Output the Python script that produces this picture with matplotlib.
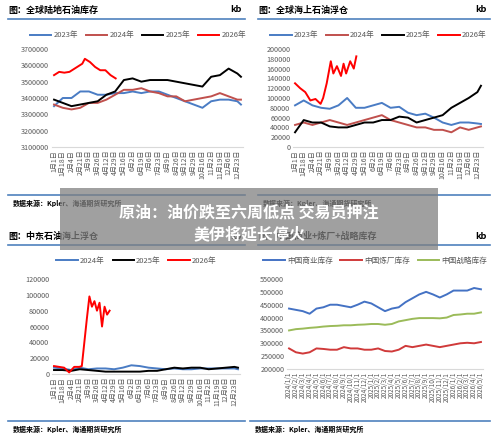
import matplotlib
matplotlib.use("Agg")
import matplotlib.pyplot as plt
from matplotlib.patches import Rectangle
from matplotlib.lines import Line2D

plt.rcParams['font.family'] = ['Noto Sans CJK SC', 'DejaVu Sans']

day_labels = ["1月1日","1月18日","2月4日","2月21日","3月9日","3月26日","4月12日","4月29日","5月16日",
              "6月2日","6月19日","7月6日","7月23日","8月9日","8月26日","9月12日","9月29日","10月16日",
              "11月2日","11月19日","12月6日","12月23日"]
tick_days = [i * 17 for i in range(22)]
series_days = tick_days + [364]

# Panel 1: global onshore crude inventory
tl_2023 = [3350000,3400000,3400000,3440000,3440000,3420000,3420000,3430000,3430000,3440000,3430000,3440000,3440000,3420000,3400000,3380000,3360000,3340000,3380000,3390000,3390000,3380000,3360000]
tl_2024 = [3360000,3340000,3330000,3340000,3370000,3370000,3390000,3420000,3450000,3450000,3460000,3440000,3430000,3410000,3410000,3380000,3390000,3400000,3410000,3430000,3410000,3390000,3390000]
tl_2025 = [3390000,3370000,3350000,3360000,3370000,3380000,3420000,3440000,3510000,3520000,3500000,3510000,3510000,3510000,3500000,3490000,3480000,3470000,3530000,3540000,3580000,3550000,3530000]
tl_2026_days = [0,10,20,30,40,50,55,60,70,80,90,100,110,120]
tl_2026 = [3540000,3560000,3555000,3560000,3580000,3600000,3610000,3640000,3620000,3590000,3570000,3570000,3540000,3520000]

# Panel 2: global floating storage
tr_2023 = [85000,95000,85000,80000,78000,85000,100000,80000,80000,85000,90000,80000,82000,70000,65000,68000,60000,50000,45000,50000,50000,48000,47000]
tr_2024 = [45000,50000,45000,50000,55000,50000,45000,50000,55000,60000,65000,55000,50000,45000,40000,40000,35000,35000,30000,40000,35000,40000,42000]
tr_2025 = [30000,55000,50000,50000,42000,40000,40000,45000,50000,50000,55000,55000,62000,60000,50000,55000,60000,65000,80000,90000,100000,112000,125000]
tr_2026_days = [0,10,20,30,40,50,55,62,70,75,82,90,95,100,108,115,120]
tr_2026 = [130000,120000,112000,95000,98000,88000,100000,130000,175000,150000,165000,145000,170000,150000,175000,160000,185000]

# Panel 3: Middle East floating storage
bl_2024 = [8000,7000,5000,8000,6000,7000,7000,6000,8000,11000,10000,8000,7000,6000,7000,6000,6000,7000,7000,7000,7000,7000,6000]
bl_2025 = [5000,5000,4000,6000,5000,4000,3000,3000,3000,3000,3000,4000,4000,6000,8000,7000,8000,8000,6000,7000,8000,9000,8000]
bl_2026_days = [0,10,20,30,40,50,55,60,65,70,75,80,85,90,95,100,105,110]
bl_2026 = [10000,9000,8000,2000,9000,9000,10000,40000,70000,98000,85000,92000,80000,90000,60000,85000,75000,80000]

# Panel 4: China inventories (monthly 2024/1 - 2026/5)
month_labels = [f"{y}/{m}/1" for y in (2024, 2025) for m in range(1, 13)] + [f"2026/{m}/1" for m in range(1, 6)]
br_comm = [435000,430000,425000,415000,435000,440000,450000,450000,445000,440000,450000,462000,455000,440000,425000,435000,440000,460000,475000,490000,500000,490000,478000,490000,505000,505000,505000,515000,510000]
br_ref = [280000,265000,260000,265000,280000,278000,275000,275000,285000,280000,280000,275000,275000,280000,270000,268000,275000,290000,285000,290000,295000,290000,285000,290000,295000,300000,302000,300000,305000]
br_spr = [350000,355000,357000,360000,362000,365000,367000,368000,370000,370000,372000,373000,375000,375000,372000,375000,385000,390000,395000,398000,398000,398000,397000,400000,410000,412000,415000,415000,420000]

W, H = 500, 440
fig = plt.figure(figsize=(5, 4.4), dpi=100)
BLUE_LINE = "#4f81bd"
TXT = "#595959"

def ax_at(l, t, r, b):
    return fig.add_axes([l / W, 1 - b / H, (r - l) / W, (b - t) / H])

def px(x, y, s, **kw):
    fig.text(x / W, 1 - y / H, s, **kw)

def hline(x0, x1, y, color=BLUE_LINE, lw=1.2):
    fig.add_artist(Line2D([x0 / W, x1 / W], [1 - y / H, 1 - y / H], color=color, lw=lw))

def style(ax, ylim, yticks):
    ax.set_ylim(*ylim)
    ax.set_yticks(yticks)
    ax.set_yticklabels([str(v) for v in yticks], fontsize=5.2, color=TXT)
    for s in ax.spines.values():
        s.set_visible(False)
    ax.spines['bottom'].set_visible(True)
    ax.spines['bottom'].set_color("#d9d9d9")
    ax.tick_params(length=0, pad=2)

def legend(ax, handles, labels, y, fs=5.5):
    ax.legend(handles, labels, loc='lower center', bbox_to_anchor=(0.45, y), ncol=len(labels),
              frameon=False, fontsize=fs, handlelength=2.8, columnspacing=1.0, labelcolor=TXT, handletextpad=0.3)

def header(x0, x1, y, title):
    px(x0, y, title, fontsize=6.5, fontweight='bold', va='center')
    px(x1 - 3, y, "kb", fontsize=6.5, fontweight='bold', va='center', ha='right')
    hline(x0, x1, y + 9)

def footer(x0, x1, y):
    hline(x0, x1, y)
    px(x0 + 5, y + 8, "数据来源：Kpler、海通期货研究所", fontsize=5, fontweight='bold', va='center')

C23, C24, C25, C26 = "#4a7cc4", "#c0504d", "#000000", "#ff0000"

# Panel 1
header(8, 245, 10, "图：全球陆地石油库存")
ax1 = ax_at(52, 49, 243, 147)
h = [ax1.plot(series_days, tl_2023, color=C23, lw=1.4)[0],
     ax1.plot(series_days, tl_2024, color=C24, lw=1.4)[0],
     ax1.plot(series_days, tl_2025, color=C25, lw=1.4)[0],
     ax1.plot(tl_2026_days, tl_2026, color=C26, lw=1.4)[0]]
style(ax1, (3100000, 3700000), list(range(3100000, 3700001, 100000)))
ax1.set_xlim(-4, 368)
ax1.set_xticks(tick_days)
ax1.set_xticklabels(day_labels, rotation=90, fontsize=5, color=TXT)
legend(ax1, h, ["2023年", "2024年", "2025年", "2026年"], 1.03)
footer(8, 245, 195)

# Panel 2
header(258, 490, 10, "图：全球海上石油浮仓")
ax2 = ax_at(293, 49, 483, 147)
h = [ax2.plot(series_days, tr_2023, color=C23, lw=1.4)[0],
     ax2.plot(series_days, tr_2024, color=C24, lw=1.4)[0],
     ax2.plot(series_days, tr_2025, color=C25, lw=1.4)[0],
     ax2.plot(tr_2026_days, tr_2026, color=C26, lw=1.4)[0]]
style(ax2, (0, 200000), list(range(0, 200001, 20000)))
ax2.set_xlim(-4, 368)
ax2.set_xticks(tick_days)
ax2.set_xticklabels(day_labels, rotation=90, fontsize=5, color=TXT)
legend(ax2, h, ["2023年", "2024年", "2025年", "2026年"], 1.03)
footer(258, 490, 195)

# Panel 3
header(8, 245, 236, "图：中东石油海上浮仓")
ax3 = ax_at(52, 279, 240, 374)
h = [ax3.plot(series_days, bl_2024, color=C23, lw=1.4)[0],
     ax3.plot(series_days, bl_2025, color=C25, lw=1.4)[0],
     ax3.plot(bl_2026_days, bl_2026, color=C26, lw=1.4)[0]]
style(ax3, (0, 120000), list(range(0, 120001, 20000)))
ax3.set_xlim(-4, 368)
ax3.set_xticks(tick_days)
ax3.set_xticklabels(day_labels, rotation=90, fontsize=5, color=TXT)
legend(ax3, h, ["2024年", "2025年", "2026年"], 1.08)
footer(8, 245, 421)

# Panel 4
header(258, 490, 236, "图：中国商业+炼厂+战略库存")
ax4 = ax_at(287, 279, 483, 369)
mx = list(range(len(month_labels)))
h = [ax4.plot(mx, br_comm, color="#4472c4", lw=1.4)[0],
     ax4.plot(mx, br_ref, color="#d03a3a", lw=1.4)[0],
     ax4.plot(mx, br_spr, color="#9bbb59", lw=1.4)[0]]
style(ax4, (200000, 550000), list(range(200000, 550001, 50000)))
ax4.set_xlim(-0.3, len(mx) - 0.7)
ax4.set_xticks(mx)
ax4.set_xticklabels(month_labels, rotation=90, fontsize=4.6, color=TXT)
legend(ax4, h, ["中国商业库存", "中国炼厂库存", "中国战略库存"], 1.08)
footer(250, 490, 421)

# Banner overlay
fig.add_artist(Rectangle((60 / W, 1 - 250 / H), (438 - 60) / W, 62 / H, transform=fig.transFigure,
                         facecolor="#808080", alpha=0.75, edgecolor='none', zorder=10))
px(249, 213, "原油：油价跌至六周低点 交易员押注", fontsize=11.5, fontweight='bold', color='white',
   ha='center', va='center', zorder=11)
px(249, 234, "美伊将延长停火", fontsize=11.5, fontweight='bold', color='white',
   ha='center', va='center', zorder=11)

fig.savefig("out.png", dpi=100, facecolor='white')
